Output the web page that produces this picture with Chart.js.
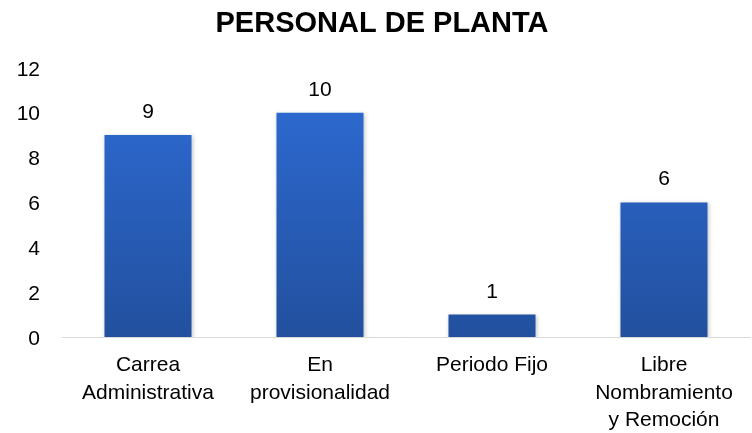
<!DOCTYPE html>
<html>
<head>
<meta charset="utf-8">
<script src="https://cdn.jsdelivr.net/npm/chart.js@4/dist/chart.umd.min.js"></script>
<style>
  html, body { margin: 0; padding: 0; background: #fff; }
  #wrap { width: 752px; height: 433px; }
</style>
</head>
<body>
<div id="wrap"><canvas id="planta"></canvas></div>
<script>
const categories = [
  'Carrea|Administrativa',
  'En|provisionalidad',
  'Periodo Fijo',
  'Libre|Nombramiento|y Remoción'
];
const personas = [9, 10, 1, 6];
const yTicks = [0, 2, 4, 6, 8, 10, 12];

const FONT = "'Liberation Sans', Arial, sans-serif";

// numbers above the bars
const valueLabels = {
  id: 'valueLabels',
  afterDatasetsDraw(chart) {
    const ctx = chart.ctx;
    const meta = chart.getDatasetMeta(0);
    ctx.save();
    ctx.font = '21px ' + FONT;
    ctx.fillStyle = '#000';
    ctx.textAlign = 'center';
    ctx.textBaseline = 'alphabetic';
    meta.data.forEach((bar, i) => {
      ctx.fillText(String(personas[i]), bar.x, bar.y - 17);
    });
    ctx.restore();
  }
};

// soft shadow round the bars
const barShadow = {
  id: 'barShadow',
  beforeDatasetDraw(chart) {
    const ctx = chart.ctx;
    ctx.save();
    ctx.shadowColor = 'rgba(0,0,0,0.22)';
    ctx.shadowBlur = 4;
    ctx.shadowOffsetX = 1;
    ctx.shadowOffsetY = 1;
  },
  afterDatasetDraw(chart) {
    chart.ctx.restore();
  }
};

let context = document.getElementById('planta').getContext('2d');
let chart = new Chart(context, {
  type: 'bar',
  data: {
    labels: categories.map(c => c.split('|')),
    datasets: [{
      data: personas,
      backgroundColor: (c) => {
        const area = c.chart.chartArea;
        if (!area) return '#2A5FC0';
        const g = c.chart.ctx.createLinearGradient(0, area.top, 0, area.bottom);
        g.addColorStop(0, '#2F6DD8');
        g.addColorStop(1, '#22509E');
        return g;
      },
      borderWidth: 0,
      categoryPercentage: 1,
      barPercentage: 0.506
    }]
  },
  plugins: [barShadow, valueLabels],
  options: {
    responsive: true,
    maintainAspectRatio: false,
    animation: false,
    layout: { padding: { left: 14, right: 2, top: 0, bottom: 0 } },
    plugins: {
      legend: { display: false },
      tooltip: { enabled: false },
      title: {
        display: true,
        text: 'PERSONAL DE PLANTA',
        color: '#000',
        font: { family: FONT, size: 29, weight: 'bold', lineHeight: 1.2 },
        padding: { top: 7, bottom: 26 }
      }
    },
    scales: {
      x: {
        grid: { display: false, drawTicks: false },
        border: { display: true, color: '#d9d9d9', width: 1 },
        ticks: {
          color: '#000',
          padding: 15,
          maxRotation: 0,
          autoSkip: false,
          font: { family: FONT, size: 21, lineHeight: 1.3 }
        },
        afterFit(axis) { axis.height = 96; }
      },
      y: {
        min: 0,
        max: 12,
        afterBuildTicks(axis) { axis.ticks = yTicks.map(v => ({ value: v })); },
        grid: { display: false, drawTicks: false },
        border: { display: false },
        ticks: {
          color: '#000',
          padding: 22,
          labelOffset: 2,
          font: { family: FONT, size: 21 }
        },
        afterFit(axis) { axis.width = 48; }
      }
    }
  }
});
</script>
</body>
</html>
